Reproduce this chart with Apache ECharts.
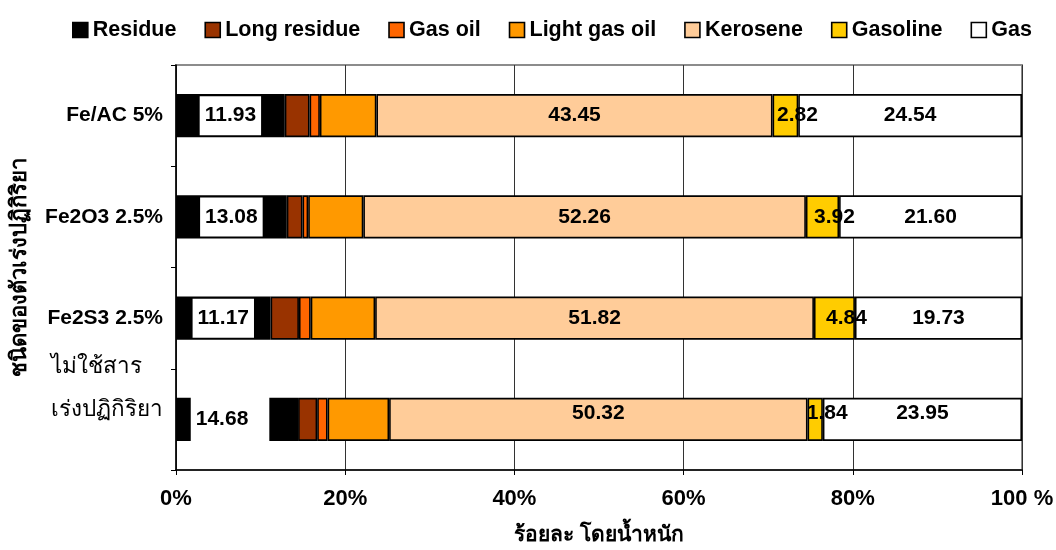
<!DOCTYPE html>
<html>
<head>
<meta charset="utf-8">
<script src="https://cdn.jsdelivr.net/npm/echarts@6/dist/echarts.min.js"></script>
<style>
  html, body { margin: 0; padding: 0; background: #fff; }
  #chart { width: 1056px; height: 550px; }
</style>
</head>
<body>
<div id="chart"></div>
<script>
// Product distribution (wt%) for each catalyst
const categories = ['Fe/AC 5%', 'Fe2O3 2.5%', 'Fe2S3 2.5%', 'ไม่ใช้สาร\nเร่งปฏิกิริยา'];
const seriesNames = ['Residue', 'Long residue', 'Gas oil', 'Light gas oil', 'Kerosene', 'Gasoline', 'Gas'];
const residue     = [11.93, 13.08, 11.17, 14.68];
const longResidue = [2.72, 1.86, 3.35, 2.30];
const gasOil      = [1.13, 0.67, 1.39, 1.25];
const lightGasOil = [6.20, 6.51, 7.61, 7.40];
const kerosene    = [43.45, 52.26, 51.82, 50.32];
const gasoline    = [2.82, 3.92, 4.84, 1.84];
const gas         = [24.54, 21.60, 19.73, 23.95];
const xTicks = [0, 20, 40, 60, 80, 100];
const xTickLabels = ['0%', '20%', '40%', '60%', '80%', '100 %'];

const colors = ['#000000', '#993300', '#FF6600', '#FF9900', '#FFCC99', '#FFCC00', '#FFFFFF'];
const FONT = '"Liberation Sans", Arial, "Noto Sans", sans-serif';

const raw = [residue, longResidue, gasOil, lightGasOil, kerosene, gasoline, gas];
// each bar is shown as a share of its own total (100% stacked)
const totals = categories.map((_, i) => raw.reduce((s, arr) => s + arr[i], 0));

// series index -> which kind of value label it carries
const labelKind = { 0: 'box', 4: 'plain', 5: 'plain', 6: 'plain' };

const baseLabel = {
  show: true,
  position: 'inside',
  color: '#000',
  fontFamily: FONT,
  fontWeight: 'bold',
  fontSize: 21
};

const series = raw.map((arr, k) => {
  const kind = labelKind[k];
  let label = { show: false };
  if (kind) {
    label = Object.assign({}, baseLabel, {
      formatter: p => arr[p.dataIndex].toFixed(2)
    });
    if (kind === 'box') {
      label.backgroundColor = '#fff';
      label.padding = [9, 5];
    }
    if (k === 5) label.offset = [12, 0];
  }
  return {
    name: seriesNames[k],
    type: 'bar',
    stack: 'total',
    barWidth: '42.5%',
    itemStyle: { color: colors[k], borderColor: '#000', borderWidth: 1.6 },
    label: label,
    data: arr.map((v, i) => {
      const item = { value: v / totals[i] * 100 };
      if (kind && i === 3) {
        // the uncatalysed run's labels sit a little higher in the bar
        if (kind === 'box') {
          item.label = { padding: [6, 21, 18, 5], offset: [-7, 0] };
        } else {
          item.label = { offset: [k === 5 ? 12 : 0, -6] };
        }
      }
      return item;
    })
  };
});

const chart = echarts.init(document.getElementById('chart'), null, { renderer: 'canvas' });
chart.setOption({
  backgroundColor: '#fff',
  animation: false,
  textStyle: { fontFamily: FONT },
  legend: {
    data: seriesNames,
    left: 67,
    top: 14,
    icon: 'rect',
    itemWidth: 15,
    itemHeight: 15,
    itemGap: 28,
    itemStyle: { borderColor: '#000', borderWidth: 1.6 },
    textStyle: { color: '#000', fontFamily: FONT, fontWeight: 'bold', fontSize: 21.5 }
  },
  grid: {
    left: 176, right: 34, top: 65, bottom: 80,
    outerBoundsMode: 'none',
    containLabel: false,
    show: true, borderColor: '#8c8c8c', borderWidth: 2, backgroundColor: 'transparent'
  },
  xAxis: {
    type: 'value',
    min: 0, max: 100, interval: 20,
    name: 'ร้อยละ โดยน้ำหนัก',
    nameLocation: 'middle',
    nameGap: 55,
    nameTextStyle: { color: '#000', fontWeight: 'bold', fontSize: 21 },
    axisLine: { show: true, lineStyle: { color: '#000', width: 1.5 } },
    axisTick: { show: true, length: 5, lineStyle: { color: '#000' } },
    splitLine: { show: true, lineStyle: { color: '#333', width: 1 } },
    axisLabel: {
      color: '#000', fontWeight: 'bold', fontSize: 22, margin: 18,
      formatter: v => xTickLabels[xTicks.indexOf(v)]
    }
  },
  yAxis: {
    type: 'category',
    data: categories,
    inverse: true,
    name: 'ชนิดของตัวเร่งปฏิกิริยา',
    nameLocation: 'middle',
    nameGap: 145,
    nameRotate: 90,
    nameTextStyle: { color: '#000', fontWeight: 'bold', fontSize: 22 },
    axisLine: { show: true, lineStyle: { color: '#000', width: 1.5 } },
    axisTick: { show: true, length: 5, lineStyle: { color: '#000' } },
    splitLine: { show: false },
    axisLabel: {
      color: '#000', fontWeight: 'bold', fontSize: 21, margin: 13,
      formatter: v => v.indexOf('\n') >= 0
        ? v.split('\n').map(s => '{th|' + s + '}').join('\n') + '\n{gap| }'
        : v,
      rich: {
        th: { color: '#000', fontWeight: 'normal', fontSize: 22.5, lineHeight: 43, align: 'left' },
        gap: { fontSize: 10, lineHeight: 63 }
      }
    }
  },
  series: series
});
</script>
</body>
</html>
